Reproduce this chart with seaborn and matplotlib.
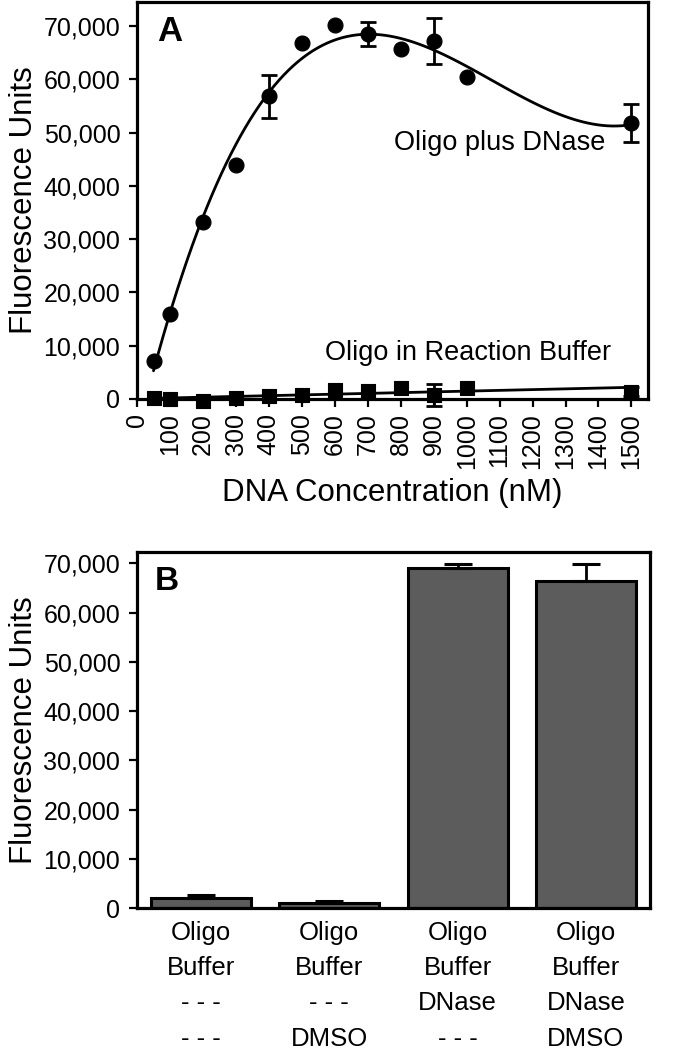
import matplotlib
matplotlib.use("Agg")
import matplotlib.pyplot as plt
import matplotlib.ticker as mticker
import seaborn as sns
import numpy as np

# Panel A: DNA titration
conc_nm = [50, 100, 200, 300, 400, 500, 600, 700, 800, 900, 1000, 1500]
oligo_dnase = [7100, 15900, 33300, 44000, 56800, 66900, 70200, 68500, 65700, 67200, 60400, 51800]
oligo_dnase_err = [0, 0, 0, 0, 4000, 0, 0, 2300, 0, 4300, 0, 3500]
oligo_buffer = [100, 50, -300, 150, 500, 800, 1700, 1550, 2000, 750, 2000, 1400]
oligo_buffer_err = [0, 0, 0, 0, 0, 0, 0, 0, 0, 2000, 0, 800]

# Panel B: controls
conditions = ["Oligo\nBuffer\n- - -\n- - -", "Oligo\nBuffer\n- - -\nDMSO",
              "Oligo\nBuffer\nDNase\n- - -", "Oligo\nBuffer\nDNase\nDMSO"]
cond_means = [2000, 1100, 69100, 66400]
cond_err = [600, 400, 800, 3500]

sns.set_style("ticks")
plt.rcParams['font.family'] = ['Liberation Sans', 'DejaVu Sans']
plt.rcParams['text.color'] = 'black'
plt.rcParams['axes.labelcolor'] = 'black'
plt.rcParams['axes.linewidth'] = 2.3
plt.rcParams['xtick.major.width'] = 1.6
plt.rcParams['ytick.major.width'] = 1.6
plt.rcParams['xtick.major.size'] = 6
plt.rcParams['ytick.major.size'] = 6
plt.rcParams['xtick.color'] = 'black'
plt.rcParams['ytick.color'] = 'black'
plt.rcParams['axes.edgecolor'] = 'black'

fig = plt.figure(figsize=(6.74, 10.5), dpi=100)
ax_a = fig.add_axes([0.2033, 0.620, 0.758, 0.378])
ax_b = fig.add_axes([0.2033, 0.1352, 0.761, 0.339])

thousands = mticker.FuncFormatter(lambda v, p: f"{int(v):,}")

# ---- Panel A ----
sns.regplot(x=conc_nm, y=oligo_dnase, order=3, ci=None, scatter=False, ax=ax_a,
            line_kws={"color": "black", "linewidth": 2})
sns.regplot(x=conc_nm, y=oligo_buffer, order=1, ci=None, scatter=False, ax=ax_a,
            line_kws={"color": "black", "linewidth": 2})
sns.scatterplot(x=conc_nm, y=oligo_dnase, marker='o', s=115, color='black',
                edgecolor='black', ax=ax_a, zorder=4, clip_on=False)
sns.scatterplot(x=conc_nm, y=oligo_buffer, marker='s', s=100, color='black',
                edgecolor='black', ax=ax_a, zorder=4, clip_on=False)

x = np.array(conc_nm)
for yv, ev in [(oligo_dnase, oligo_dnase_err), (oligo_buffer, oligo_buffer_err)]:
    yv, ev = np.array(yv), np.array(ev)
    m = ev > 0
    ax_a.errorbar(x[m], yv[m], yerr=ev[m], fmt='none', ecolor='black',
                  elinewidth=2, capsize=6, capthick=2, zorder=3, clip_on=False)

ax_a.text(1422, 48000, "Oligo plus DNase", ha='right', va='center', fontsize=19.5)
ax_a.text(1437, 8600, "Oligo in Reaction Buffer", ha='right', va='center', fontsize=19.5)
ax_a.text(0.039, 0.926, "A", transform=ax_a.transAxes, fontsize=25,
          fontweight='bold', ha='left', va='center')

ax_a.set_xlim(0, 1550)
ax_a.set_ylim(0, 74500)
ax_a.set_xticks(range(0, 1501, 100))
ax_a.set_yticks(range(0, 70001, 10000))
ax_a.yaxis.set_major_formatter(thousands)
ax_a.tick_params(axis='x', labelrotation=90, labelsize=18, pad=4)
ax_a.tick_params(axis='y', labelsize=18, pad=6)
ax_a.set_xlabel("DNA Concentration (nM)", fontsize=22.5, labelpad=7)
ax_a.set_ylabel("Fluorescence Units", fontsize=22.5, labelpad=3)

# ---- Panel B ----
sns.barplot(x=conditions, y=cond_means, color='#5c5c5c', saturation=1,
            edgecolor='black', linewidth=2.2, width=0.78, errorbar=None, ax=ax_b)
ax_b.errorbar(range(len(conditions)), cond_means,
              yerr=[np.zeros(len(cond_err)), cond_err], fmt='none', ecolor='black',
              elinewidth=2, capsize=10, capthick=2.2, zorder=3)
ax_b.text(0.035, 0.918, "B", transform=ax_b.transAxes, fontsize=24,
          fontweight='bold', ha='left', va='center')

ax_b.set_xlim(-0.5, 3.5)
ax_b.set_ylim(0, 72300)
ax_b.set_yticks(range(0, 70001, 10000))
ax_b.yaxis.set_major_formatter(thousands)
ax_b.tick_params(axis='x', length=0, labelsize=18.5, pad=9)
ax_b.tick_params(axis='y', labelsize=18, pad=6)
for lbl in ax_b.get_xticklabels():
    lbl.set_linespacing(1.6)
ax_b.set_xlabel("")
ax_b.set_ylabel("Fluorescence Units", fontsize=22.5, labelpad=3)

for ax in (ax_a, ax_b):
    for sp in ax.spines.values():
        sp.set_visible(True)
        sp.set_color('black')

fig.savefig("out.png", dpi=100)
plt.close(fig)
